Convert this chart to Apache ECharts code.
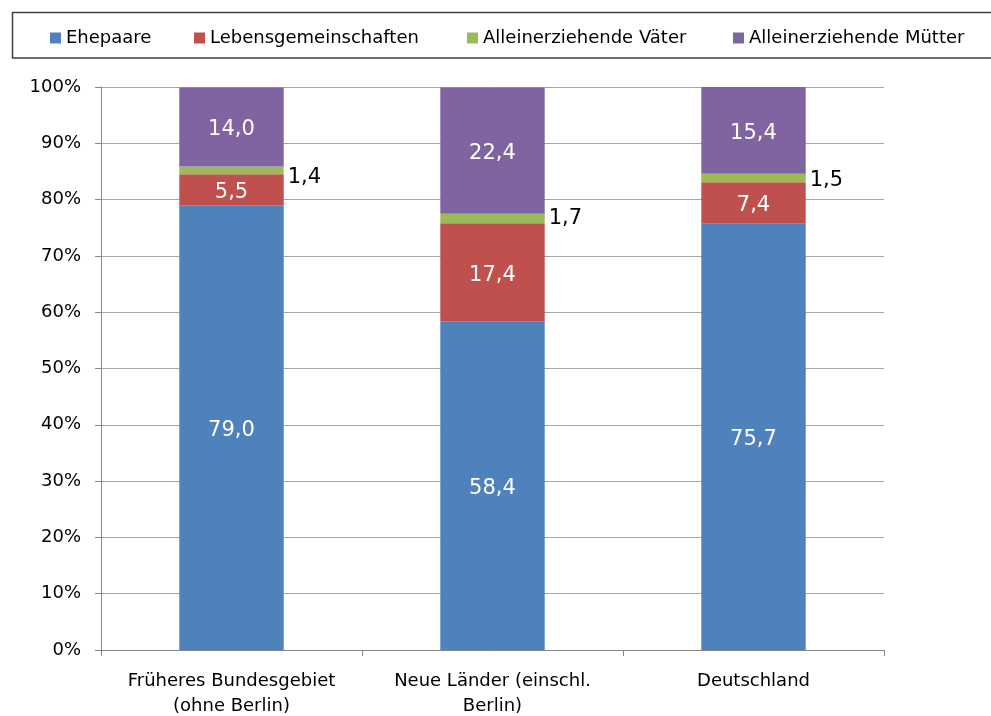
<!DOCTYPE html>
<html><head><meta charset="utf-8">
<script src="https://cdn.jsdelivr.net/npm/echarts@6/dist/echarts.min.js"></script>
<style>html,body{margin:0;padding:0;background:#fff}#c{width:991px;height:716px}</style>
</head><body><div id="c"></div>
<script>
const categories = ['Früheres Bundesgebiet\n(ohne Berlin)', 'Neue Länder (einschl.\nBerlin)', 'Deutschland'];
const seriesNames = ['Ehepaare', 'Lebensgemeinschaften', 'Alleinerziehende Väter', 'Alleinerziehende Mütter'];
const ehepaare = [79.0, 58.4, 75.7];
const lebensgemeinschaften = [5.5, 17.4, 7.4];
const vaeter = [1.4, 1.7, 1.5];
const muetter = [14.0, 22.4, 15.4];
const yTicks = [0, 10, 20, 30, 40, 50, 60, 70, 80, 90, 100];
const colors = ['#4f81bd', '#c0504d', '#9bbb59', '#8064a2'];

const FONT = 'DejaVu Sans, sans-serif';
const fmt = p => p.value.toFixed(1).replace('.', ',');
const inLabel = {show: true, position: 'inside', color: '#fff', fontSize: 21, fontFamily: FONT, formatter: fmt, offset: [0, 3]};
const vaeterOffsets = [[0, 7], [0, 0], [0, 3]];
const chart = echarts.init(document.getElementById('c'));
const data = [ehepaare, lebensgemeinschaften, vaeter, muetter];
const legendLefts = [50, 194, 467, 733];
chart.setOption({
  animation: false,
  color: colors,
  textStyle: {fontFamily: FONT},
  graphic: [{type: 'rect', shape: {x: 12.5, y: 12.5, width: 990, height: 45.5}, style: {fill: 'none', stroke: '#404040', lineWidth: 1.5}}],
  legend: seriesNames.map((n, i) => ({
    top: 29, left: legendLefts[i], itemWidth: 11, itemHeight: 11, padding: 0,
    icon: 'rect',
    textStyle: {fontSize: 18, fontFamily: FONT, color: '#000'},
    data: [n]
  })),
  grid: {left: 101, top: 87, width: 783, height: 563, containLabel: false, outerBoundsMode: 'none'},
  xAxis: {
    type: 'category', data: categories,
    axisLine: {lineStyle: {color: '#868686'}},
    axisTick: {show: true, length: 6, lineStyle: {color: '#868686'}},
    axisLabel: {interval: 0, fontSize: 18, color: '#000', fontFamily: FONT, margin: 19, lineHeight: 25}
  },
  yAxis: {
    type: 'value', min: 0, max: 100, interval: 10,
    axisLine: {show: true, lineStyle: {color: '#868686'}},
    axisTick: {show: true, length: 6, lineStyle: {color: '#868686'}},
    splitLine: {lineStyle: {color: '#a6a6a6'}},
    axisLabel: {fontSize: 18, color: '#000', fontFamily: FONT, margin: 20, formatter: v => yTicks.includes(v) ? v + '%' : ''}
  },
  series: seriesNames.map((n, i) => ({
    name: n, type: 'bar', stack: 'a', barWidth: '40%',
    data: i === 2
      ? data[i].map((v, j) => ({value: v, label: {offset: vaeterOffsets[j]}}))
      : data[i],
    label: i === 2 ? {show: true, position: 'right', color: '#000', fontSize: 21, fontFamily: FONT, formatter: fmt, distance: 4} : inLabel
  }))
});
</script></body></html>
